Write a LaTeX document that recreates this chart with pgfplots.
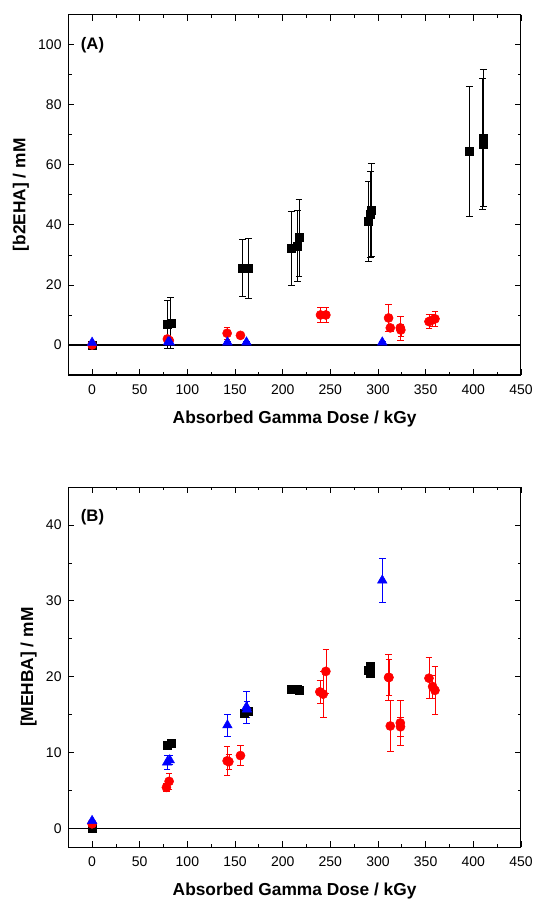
\documentclass[border=0pt]{standalone}
\usepackage{pgfplots}
\pgfplotsset{compat=1.18}
\usepackage{pgfplotstable}
\usepackage{fontspec}
\setmainfont{Liberation Sans}

\pgfplotstableread{
x y e
0 0 0
79.1 7.0 8.0
82.6 7.3 8.5
157.8 25.6 9.5
164.1 25.5 10.0
208.9 32.1 12.3
215.6 33.0 11.9
217.0 35.8 12.8
290.1 41.3 13.3
292.2 43.5 14.3
293.0 45.0 15.4
395.8 64.4 21.7
410.0 67.0 21.7
410.5 69.0 22.7
}\AblackTable
\pgfplotstableread{
x y e
0 0 0
79 2.0 0.5
81 1.5 0.5
141.7 3.9 2.0
155.7 3.2 0.5
239.7 10.0 2.6
245.3 10.0 2.6
311.1 9.0 4.6
312.9 5.7 1.0
323.4 5.7 4.0
324.0 5.0 2.0
353.5 7.8 2.3
357.0 8.3 2.0
359.8 8.7 2.6
}\AredTable
\pgfplotstableread{
x y e
0 0.8 0
79.8 1.0 0.3
81.5 0.9 0.3
142 0.9 0.3
162 0.9 0.3
304.5 0.9 0.3
}\AblueTable

\pgfplotstableread{
x y e
0 0 0
79.1 10.9 0.3
82.6 11.2 0.3
159.6 15.2 0.3
164.1 15.4 0.3
208.9 18.4 0.2
215.6 18.4 0.2
217.0 18.2 0.2
290.1 20.8 0.3
292.2 21.4 0.3
292.2 20.5 0.3
}\BblackTable
\pgfplotstableread{
x y e
0 0.6 0
78 5.4 0.5
80.8 6.2 1.1
141.7 8.9 1.9
143.5 8.8 1.0
155.7 9.6 1.35
239 18.0 1.55
242.5 17.7 3.0
245.3 20.7 2.9
311.1 19.9 3.0
311.5 19.9 2.4
312.9 13.5 3.4
323.4 13.9 3.0
323.6 13.4 1.3
353.5 19.8 2.7
357.3 18.7 1.5
359.8 18.2 3.1
}\BredTable
\pgfplotstableread{
x y e
0 1.0 0
78.7 8.7 0.9
81.5 9.0 0.6
142 13.6 1.45
162 16.0 2.1
162.5 15.7 1.1
304.5 32.7 2.9
}\BblueTable

\pgfplotsset{
  common/.style={
    scale only axis,
    width=339.5pt, height=270.2pt,
    xmin=-25, xmax=450,
    xtick={0,50,...,450},
    minor x tick num=1,
    tick align=inside,
    major tick length=4.5pt,
    minor tick length=2.5pt,
    axis line style={line width=0.8pt},
    every tick/.style={line width=0.6pt, black},
    tick label style={font=\fontsize{10.5}{12}\selectfont},
    xticklabel style={yshift=-3.5pt},
    yticklabel style={xshift=-1.5pt},
    /pgf/number format/assume math mode=true,
    label style={font=\bfseries\fontsize{13}{15}\selectfont},
    xlabel style={yshift=-5.5pt},
    xlabel={Absorbed Gamma Dose / kGy},
    clip=false,
  },
  eb/.style={error bars/.cd, y dir=both, y explicit,
    error bar style={line width=0.5pt},
    error mark options={rotate=90, mark size=2.5pt, line width=0.5pt}},
}

\begin{document}
\begin{tikzpicture}
\path[use as bounding box] (0,0) rectangle (400.5pt,-676.5pt);

\begin{axis}[common,
  at={(51.2pt,-281.25pt)}, anchor=south west,
  ymin=-10, ymax=110,
  ytick={0,20,...,100},
  minor y tick num=1,
  ylabel={[b2EHA] / mM},
]
\addplot[black, line width=0.9pt, forget plot] coordinates {(-25,0) (450,0)};
\addplot[black, only marks, mark=square*, mark size=3pt, eb] table[x=x, y=y, y error=e] {\AblackTable};
\addplot[red, only marks, mark=*, mark size=3.4pt, eb] table[x=x, y=y, y error=e] {\AredTable};
\addplot[blue, only marks, mark=triangle*, mark size=4.1pt, eb] table[x=x, y=y, y error=e] {\AblueTable};
\node[anchor=west, inner sep=0pt, font=\bfseries\fontsize{12.5}{14}\selectfont] at (axis cs:-12,100) {(A)};
\end{axis}

\begin{axis}[common,
  at={(51.2pt,-635.5pt)}, anchor=south west,
  ymin=-2.5, ymax=45,
  ytick={0,10,...,40},
  minor y tick num=1,
  ylabel={[MEHBA] / mM},
]
\addplot[black, line width=0.8pt, forget plot] coordinates {(-25,0) (450,0)};
\addplot[black, only marks, mark=square*, mark size=3pt, eb] table[x=x, y=y, y error=e] {\BblackTable};
\addplot[red, only marks, mark=*, mark size=3.4pt, eb] table[x=x, y=y, y error=e] {\BredTable};
\addplot[blue, only marks, mark=triangle*, mark size=4.1pt, eb] table[x=x, y=y, y error=e] {\BblueTable};
\node[anchor=west, inner sep=0pt, font=\bfseries\fontsize{12.5}{14}\selectfont] at (axis cs:-12,41) {(B)};
\end{axis}
\end{tikzpicture}
\end{document}
